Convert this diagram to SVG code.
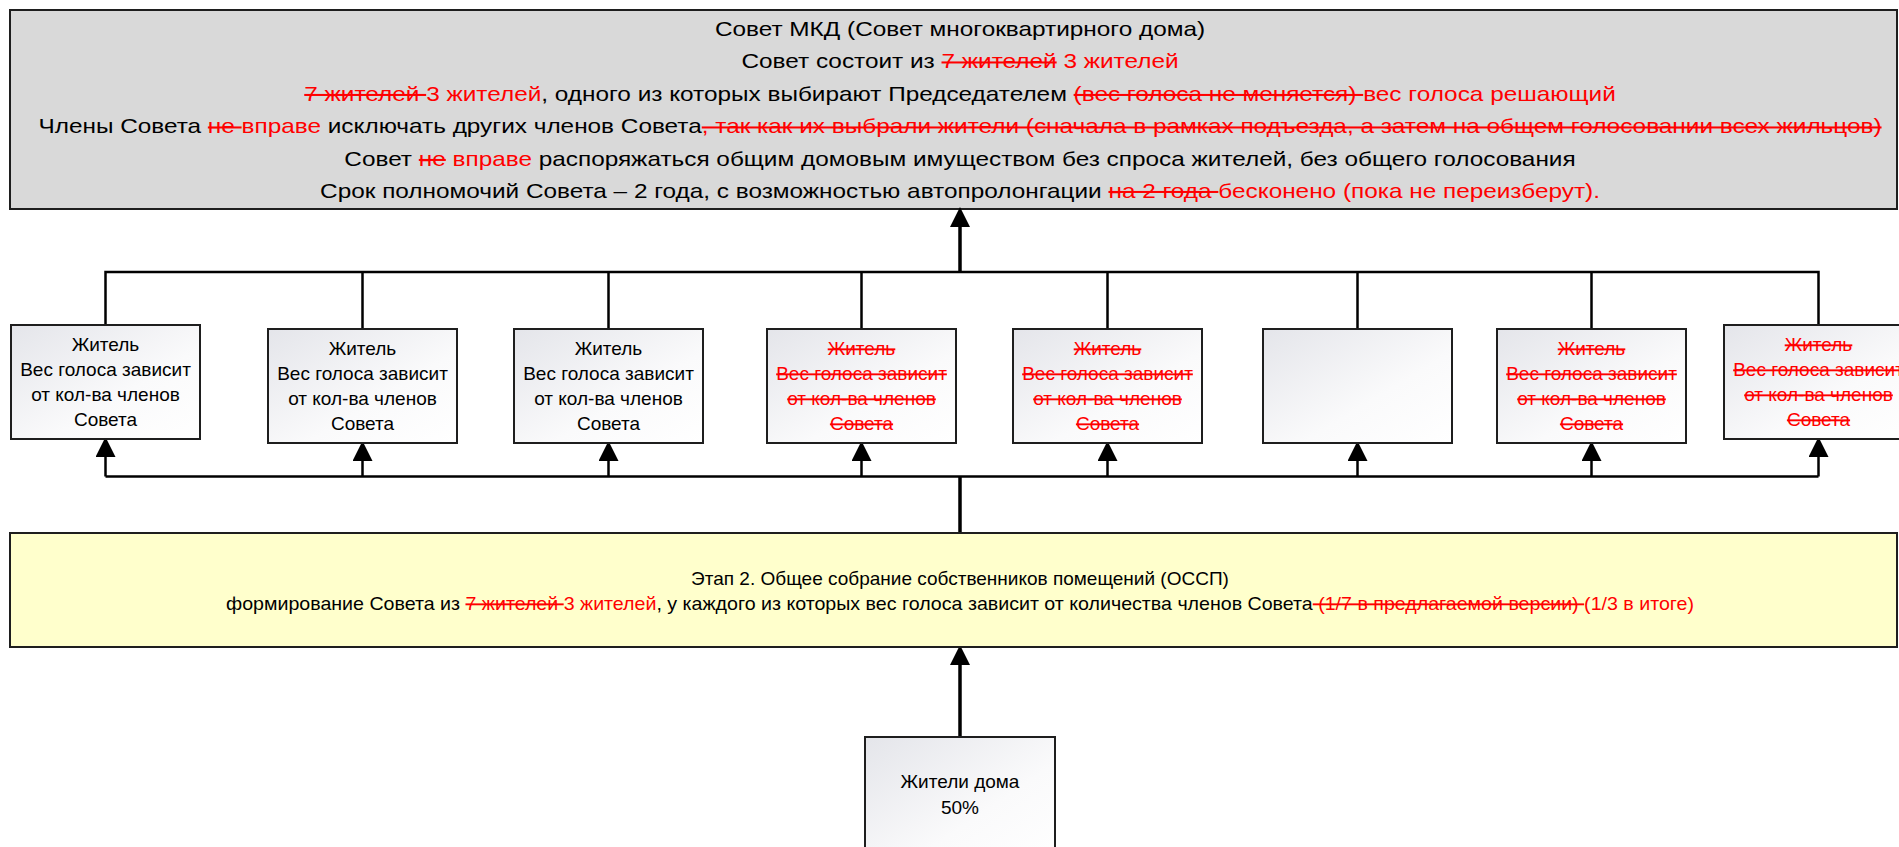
<svg xmlns="http://www.w3.org/2000/svg" width="1899" height="847" viewBox="0 0 1899 847">
<style>
  text { font-family: "Liberation Sans", Arial, sans-serif; fill: #000; }
  .t { font-size: 20.3px; }
  .n { font-size: 19px; }
  .r { fill: #ff0000; }
  .s { fill: #ff0000; text-decoration: line-through; }
  .box { stroke: #1e1e1e; stroke-width: 2; }
  .node { fill: url(#g); stroke: #1e1e1e; stroke-width: 2; }
  .c { fill: none; stroke: #000; stroke-width: 2.5; }
  .cb { fill: none; stroke: #000; stroke-width: 3.5; }
</style>
<defs>
  <linearGradient id="g" x1="0" y1="0" x2="1" y2="1">
    <stop offset="0" stop-color="#e4e5ea"/>
    <stop offset="0.6" stop-color="#fafafb"/>
    <stop offset="1" stop-color="#ffffff"/>
  </linearGradient>
  <marker id="a" markerUnits="userSpaceOnUse" markerWidth="20" markerHeight="20" refX="0" refY="9" orient="auto" viewBox="0 0 18 18">
    <path d="M0,0 L18,9 L0,18 z" fill="#000"/>
  </marker>
</defs>

<g id="sovet">
  <rect class="box" x="10" y="10" width="1887" height="199" fill="#d9d9d9"/>
  <g transform="translate(960,0) scale(1.2,1)" class="t" text-anchor="middle" xml:space="preserve">
    <text x="0" y="36">Совет МКД (Совет многоквартирного дома)</text>
    <text x="0" y="68.5">Совет состоит из <tspan class="s">7 жителей</tspan><tspan class="r"> 3 жителей</tspan></text>
    <text x="0" y="101"><tspan class="s">7 жителей </tspan><tspan class="r">3 жителей</tspan>, одного из которых выбирают Председателем <tspan class="s">(вес голоса не меняется) </tspan><tspan class="r">вес голоса решающий</tspan></text>
    <text x="0" y="133.5">Члены Совета <tspan class="s">не </tspan><tspan class="r">вправе</tspan> исключать других членов Совета<tspan class="s">, так как их выбрали жители (сначала в рамках подъезда, а затем на общем голосовании всех жильцов)</tspan></text>
    <text x="0" y="166">Совет <tspan class="s">не</tspan><tspan class="r"> вправе</tspan> распоряжаться общим домовым имуществом без спроса жителей, без общего голосования</text>
    <text x="0" y="198">Срок полномочий Совета – 2 года, с возможностью автопролонгации <tspan class="s">на 2 года </tspan><tspan class="r">бесконено (пока не переизберут).</tspan></text>
  </g>
</g>

<g id="connectors">
  <path class="c" d="M105.5,325 V272 H1818.5 V325"/>
  <path class="c" d="M362.5,329 V272 M608.5,329 V272 M861.5,329 V272 M1107.5,329 V272 M1357.5,329 V272 M1591.5,329 V272"/>
  <path class="cb" d="M960,272 V227" marker-end="url(#a)"/>
  <path class="c" d="M105.5,476.5 H1818.5"/>
  <path class="c" d="M105.5,476.5 V457" marker-end="url(#a)"/>
  <path class="c" d="M362.5,476.5 V461" marker-end="url(#a)"/>
  <path class="c" d="M608.5,476.5 V461" marker-end="url(#a)"/>
  <path class="c" d="M861.5,476.5 V461" marker-end="url(#a)"/>
  <path class="c" d="M1107.5,476.5 V461" marker-end="url(#a)"/>
  <path class="c" d="M1357.5,476.5 V461" marker-end="url(#a)"/>
  <path class="c" d="M1591.5,476.5 V461" marker-end="url(#a)"/>
  <path class="c" d="M1818.5,476.5 V457" marker-end="url(#a)"/>
  <path class="cb" d="M960,533 V476.5"/>
  <path class="cb" d="M960,737 V665" marker-end="url(#a)"/>
</g>

<g id="n1">
  <rect class="node" x="11" y="325" width="189" height="114"/>
  <g class="n" text-anchor="middle"><text x="105.5" y="351">Житель</text><text x="105.5" y="376">Вес голоса зависит</text><text x="105.5" y="401">от кол-ва членов</text><text x="105.5" y="426">Совета</text></g>
</g>
<g id="n2">
  <rect class="node" x="268" y="329" width="189" height="114"/>
  <g class="n" text-anchor="middle"><text x="362.5" y="355">Житель</text><text x="362.5" y="380">Вес голоса зависит</text><text x="362.5" y="405">от кол-ва членов</text><text x="362.5" y="430">Совета</text></g>
</g>
<g id="n3">
  <rect class="node" x="514" y="329" width="189" height="114"/>
  <g class="n" text-anchor="middle"><text x="608.5" y="355">Житель</text><text x="608.5" y="380">Вес голоса зависит</text><text x="608.5" y="405">от кол-ва членов</text><text x="608.5" y="430">Совета</text></g>
</g>
<g id="n4">
  <rect class="node" x="767" y="329" width="189" height="114"/>
  <g class="n" text-anchor="middle"><text class="s" x="861.5" y="355">Житель</text><text class="s" x="861.5" y="380">Вес голоса зависит</text><text class="s" x="861.5" y="405">от кол-ва членов</text><text class="s" x="861.5" y="430">Совета</text></g>
</g>
<g id="n5">
  <rect class="node" x="1013" y="329" width="189" height="114"/>
  <g class="n" text-anchor="middle"><text class="s" x="1107.5" y="355">Житель</text><text class="s" x="1107.5" y="380">Вес голоса зависит</text><text class="s" x="1107.5" y="405">от кол-ва членов</text><text class="s" x="1107.5" y="430">Совета</text></g>
</g>
<g id="n6">
  <rect class="node" x="1263" y="329" width="189" height="114"/>
</g>
<g id="n7">
  <rect class="node" x="1497" y="329" width="189" height="114"/>
  <g class="n" text-anchor="middle"><text class="s" x="1591.5" y="355">Житель</text><text class="s" x="1591.5" y="380">Вес голоса зависит</text><text class="s" x="1591.5" y="405">от кол-ва членов</text><text class="s" x="1591.5" y="430">Совета</text></g>
</g>
<g id="n8">
  <rect class="node" x="1724" y="325" width="189" height="114"/>
  <g class="n" text-anchor="middle"><text class="s" x="1818.5" y="351">Житель</text><text class="s" x="1818.5" y="376">Вес голоса зависит</text><text class="s" x="1818.5" y="401">от кол-ва членов</text><text class="s" x="1818.5" y="426">Совета</text></g>
</g>

<g id="etap2">
  <rect class="box" x="10" y="533" width="1887" height="114" fill="#ffffcc"/>
  <g class="n" text-anchor="middle" xml:space="preserve">
    <text x="960" y="585">Этап 2. Общее собрание собственников помещений (ОССП)</text>
    <text x="960" y="610" textLength="1468" lengthAdjust="spacingAndGlyphs">формирование Совета из <tspan class="s">7 жителей </tspan><tspan class="r">3 жителей</tspan>, у каждого из которых вес голоса зависит от количества членов Совета<tspan class="s"> (1/7 в предлагаемой версии) </tspan><tspan class="r">(1/3 в итоге)</tspan></text>
  </g>
</g>

<g id="zhiteli">
  <rect class="node" x="865" y="737" width="190" height="130"/>
  <g class="n" text-anchor="middle"><text x="960" y="788">Жители дома</text><text x="960" y="814">50%</text></g>
</g>
</svg>
